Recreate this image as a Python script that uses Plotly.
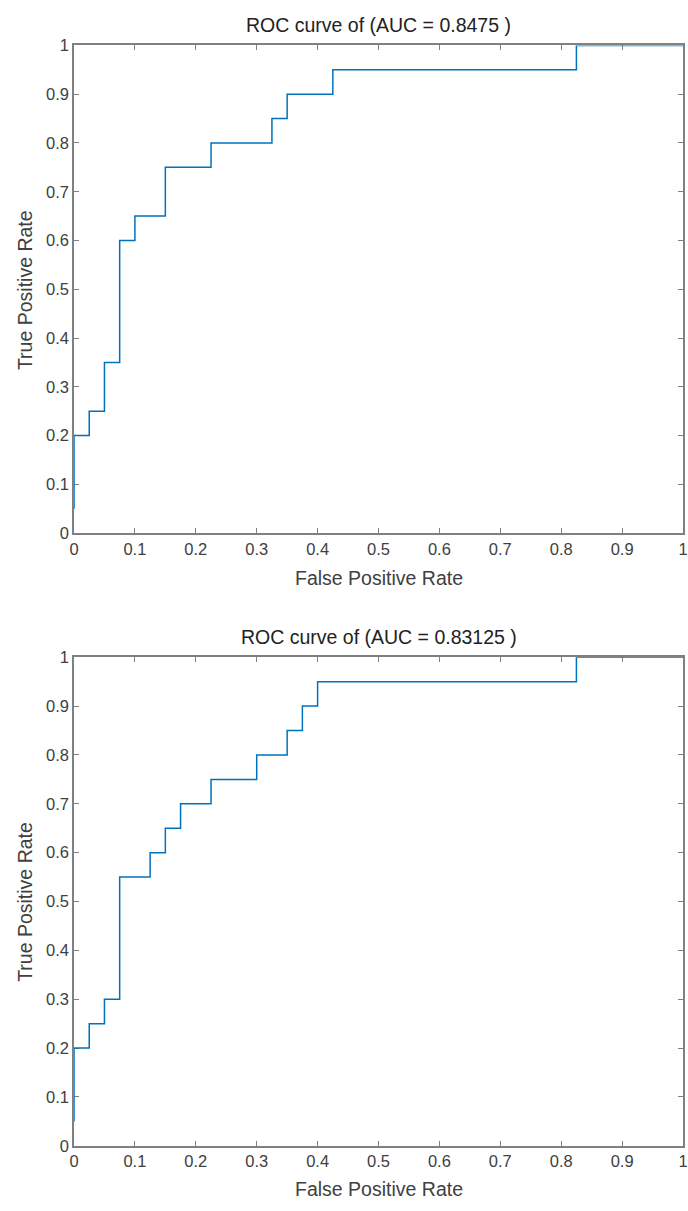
import plotly.graph_objects as go

# Top ROC curve (AUC = 0.8475)
fpr_top = [0, 0, 0.025, 0.025, 0.05, 0.05, 0.075, 0.075, 0.1, 0.1, 0.15, 0.15,
           0.225, 0.225, 0.325, 0.325, 0.35, 0.35, 0.425, 0.425, 0.825, 0.825, 1]
tpr_top = [0.05, 0.2, 0.2, 0.25, 0.25, 0.35, 0.35, 0.6, 0.6, 0.65, 0.65, 0.75,
           0.75, 0.8, 0.8, 0.85, 0.85, 0.9, 0.9, 0.95, 0.95, 1, 1]

# Bottom ROC curve (AUC = 0.83125)
fpr_bot = [0, 0, 0.025, 0.025, 0.05, 0.05, 0.075, 0.075, 0.125, 0.125, 0.15, 0.15,
           0.175, 0.175, 0.225, 0.225, 0.3, 0.3, 0.35, 0.35, 0.375, 0.375, 0.4, 0.4,
           0.825, 0.825, 1]
tpr_bot = [0.05, 0.2, 0.2, 0.25, 0.25, 0.3, 0.3, 0.55, 0.55, 0.6, 0.6, 0.65,
           0.65, 0.7, 0.7, 0.75, 0.75, 0.8, 0.8, 0.85, 0.85, 0.9, 0.9, 0.95,
           0.95, 1, 1]

titles = ["ROC curve of (AUC = 0.8475 )", "ROC curve of (AUC = 0.83125 )"]
x_label = "False Positive Rate"
y_label = "True Positive Rate"
tick_vals = [0, 0.1, 0.2, 0.3, 0.4, 0.5, 0.6, 0.7, 0.8, 0.9, 1]
tick_text = ["0", "0.1", "0.2", "0.3", "0.4", "0.5", "0.6", "0.7", "0.8", "0.9", "1"]

W, H = 688, 1211
FONT = "Liberation Sans, Arial, Helvetica, sans-serif"
TXT = "#404040"
AX = "#808080"
BLUE = "#0072BD"

def py(px):
    return 1 - px / H

fig = go.Figure()
fig.add_trace(go.Scatter(x=fpr_top, y=tpr_top, mode="lines", xaxis="x", yaxis="y",
                         line=dict(color=BLUE, width=1.5), showlegend=False))
fig.add_trace(go.Scatter(x=fpr_bot, y=tpr_bot, mode="lines", xaxis="x2", yaxis="y2",
                         line=dict(color=BLUE, width=1.5), showlegend=False))

axis_common = dict(range=[0, 1], tickvals=tick_vals, ticktext=tick_text,
                   ticks="inside", ticklen=5, tickwidth=1, tickcolor=AX,
                   showline=True, linecolor=AX, linewidth=1.5, mirror="ticks",
                   showgrid=False, zeroline=False, layer="below traces",
                   ticklabeloverflow="allow",
                   tickfont=dict(family=FONT, size=16.5, color=TXT), fixedrange=True)

fig.update_layout(
    width=W, height=H,
    margin=dict(l=74, r=1, t=0, b=0),
    paper_bgcolor="white", plot_bgcolor="white",
    xaxis=dict(domain=[0, 1], anchor="y", **axis_common),
    yaxis=dict(domain=[py(532), py(37)], anchor="x", **axis_common),
    xaxis2=dict(domain=[0, 1], anchor="y2", **axis_common),
    yaxis2=dict(domain=[py(1154), py(658)], anchor="x2", **axis_common),
)

ann = []
for t, ty, xl, yc in [(titles[0], 16, 578, 285), (titles[1], 637, 1198, 906)]:
    ann.append(dict(text=t, x=0.5, y=py(ty), xref="paper", yref="paper",
                    showarrow=False, xanchor="center", yanchor="middle",
                    font=dict(family=FONT, size=19.5, color="#222222")))
    ann.append(dict(text=x_label, x=0.5, y=py(xl), xref="paper", yref="paper",
                    showarrow=False, xanchor="center", yanchor="middle",
                    font=dict(family=FONT, size=19.5, color=TXT)))
    ann.append(dict(text=y_label, x=(24 - 74) / 613, y=py(yc), xref="paper", yref="paper",
                    showarrow=False, xanchor="center", yanchor="middle", textangle=-90,
                    font=dict(family=FONT, size=19.5, color=TXT)))
fig.update_layout(annotations=ann)

fig.write_html(
    "out.html",
    config={"displayModeBar": False},
    post_script="document.body.style.margin='0';"
                "document.documentElement.style.overflow='hidden';"
                "document.body.style.overflow='hidden';",
)
